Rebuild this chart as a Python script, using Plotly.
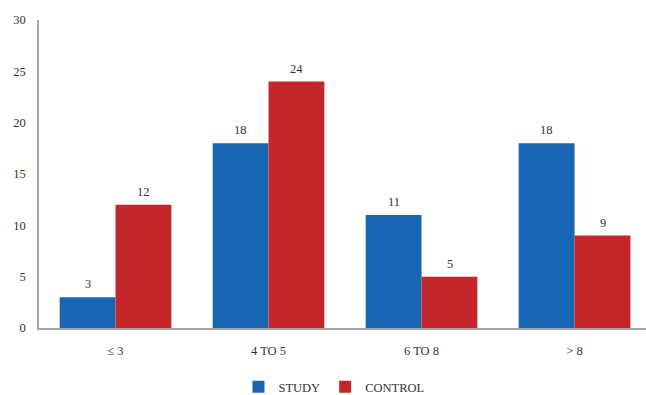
import plotly.graph_objects as go

categories = ["≤ 3", "4 TO 5", "6 TO 8", "> 8"]
study = [3, 18, 11, 18]
control = [12, 24, 5, 9]
y_ticks = [0, 5, 10, 15, 20, 25, 30]

FONT = "Liberation Serif"
TEXT_COLOR = "#333333"

fig = go.Figure()
fig.add_trace(go.Bar(
    x=categories, y=study, name="STUDY",
    marker=dict(color="#1865b3", line=dict(width=0)),
))
fig.add_trace(go.Bar(
    x=categories, y=control, name="CONTROL",
    marker=dict(color="#c4262b", line=dict(width=0)),
))

# value labels above each bar (offset left/right of the category centre)
for series, shift in ((study, -28), (control, 28)):
    for cat, val in zip(categories, series):
        fig.add_annotation(
            x=cat, y=val, text=str(val), showarrow=False,
            xshift=shift, yshift=4, yanchor="bottom",
            font=dict(family=FONT, size=12.5, color=TEXT_COLOR),
        )

fig.update_layout(
    width=646, height=395,
    margin=dict(l=39, r=0, t=20, b=67),
    paper_bgcolor="white", plot_bgcolor="white",
    barmode="group", bargap=0.27, bargroupgap=0,
    font=dict(family=FONT, size=12, color=TEXT_COLOR),
    showlegend=True,
    legend=dict(
        orientation="h", x=0.517, xref="container", xanchor="center",
        y=0.02, yref="container", yanchor="middle",
        font=dict(family=FONT, size=12.5, color=TEXT_COLOR),
        itemwidth=30, tracegroupgap=0,
    ),
)
fig.update_xaxes(
    range=[-0.5, 3.467],
    showline=True, linecolor="#a6a6a6", linewidth=1.5,
    ticks="", showgrid=False, ticklabelstandoff=10,
    tickfont=dict(family=FONT, size=12.5, color=TEXT_COLOR),
)
fig.update_yaxes(
    range=[0, 30], tickvals=y_ticks,
    showline=True, linecolor="#a6a6a6", linewidth=1.5,
    showgrid=False, zeroline=False, ticks="", ticklabelstandoff=9,
    tickfont=dict(family=FONT, size=12.5, color=TEXT_COLOR),
)

fig.write_html("out.html")
